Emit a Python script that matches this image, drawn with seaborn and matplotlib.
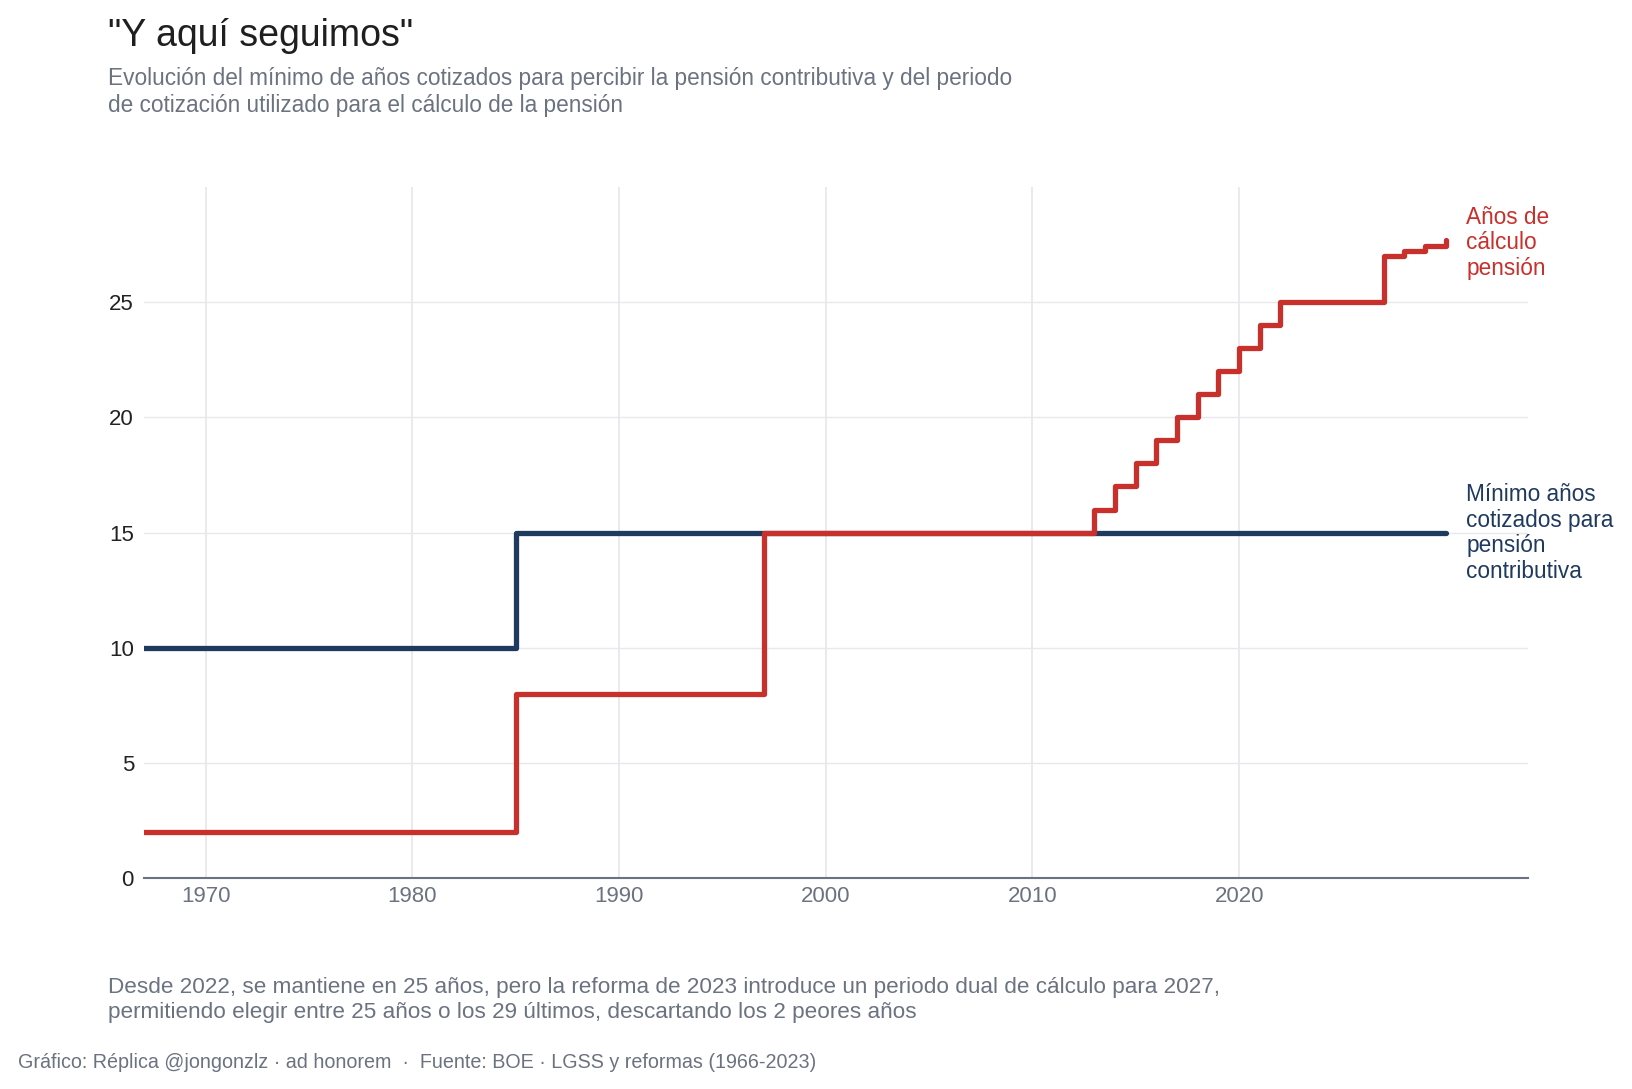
import pandas as pd
import numpy as np
import seaborn as sns
import matplotlib.pyplot as plt

# step change points (year, value) - drawn as steps-post
min_years = [1966, 1985, 2030]
min_values = [10, 15, 15]

calc_years = [1966, 1985, 1997, 2013, 2014, 2015, 2016, 2017, 2018, 2019, 2020,
              2021, 2022, 2027, 2028, 2029, 2030]
calc_values = [2, 8, 15, 16, 17, 18, 19, 20, 21, 22, 23,
               24, 25, 27, 27.25, 27.45, 27.7]

series_names = ["Mínimo años\ncotizados para\npensión\ncontributiva",
                "Años de\ncálculo\npensión"]
colors = ["#1f3a5f", "#c8302c"]

x_ticks = [1970, 1980, 1990, 2000, 2010, 2020]
y_ticks = [0, 5, 10, 15, 20, 25]

df = pd.concat([
    pd.DataFrame({"year": min_years, "value": min_values, "serie": series_names[0]}),
    pd.DataFrame({"year": calc_years, "value": calc_values, "serie": series_names[1]}),
])

sns.set_theme(style="white")
plt.rcParams['font.family'] = ['Liberation Sans', 'DejaVu Sans']

fig = plt.figure(figsize=(16.33, 10.89), dpi=100)
ax = fig.add_axes([0.088, 0.194, 0.848, 0.634])

grid_c = "#e6e8ec"
for xt in x_ticks:
    ax.axvline(xt, color=grid_c, lw=1.3, zorder=0)
for yt in y_ticks[1:]:
    ax.axhline(yt, color=grid_c, lw=1.0, zorder=0)

sns.lineplot(data=df, x="year", y="value", hue="serie", palette=colors,
             hue_order=series_names, drawstyle="steps-post", linewidth=3.8,
             legend=False, ax=ax, zorder=3)
# red drawn on top of blue where they overlap
for line in ax.get_lines():
    if line.get_color() == colors[1]:
        line.set_zorder(4)

ax.set_xlim(1967, 2034)
ax.set_ylim(0, 30)
ax.set_xticks(x_ticks)
ax.set_yticks(y_ticks)
ax.tick_params(axis="x", labelsize=16, labelcolor="#6b7280", length=0, pad=6)
ax.tick_params(axis="y", labelsize=16, labelcolor="#222222", length=0, pad=7)
ax.set_xlabel("")
ax.set_ylabel("")
for s in ["top", "right", "left"]:
    ax.spines[s].set_visible(False)
ax.spines["bottom"].set_color("#6b7280")
ax.spines["bottom"].set_linewidth(1.5)

# direct labels at the right end
ax.text(2031, 29.2, series_names[1], color=colors[1], fontsize=16.3,
        va="top", ha="left", linespacing=1.15, clip_on=False)
ax.text(2031, 17.15, series_names[0], color=colors[0], fontsize=16.3,
        va="top", ha="left", linespacing=1.15, clip_on=False)

fig.text(0.0663, 0.958, "\"Y aquí seguimos\"", fontsize=27, color="#1f1f1f",
         ha="left", va="baseline")
fig.text(0.0663, 0.8976,
         "Evolución del mínimo de años cotizados para percibir la pensión contributiva y del periodo\n"
         "de cotización utilizado para el cálculo de la pensión",
         fontsize=16.3, color="#6b7280", ha="left", va="baseline", linespacing=1.2)
fig.text(0.0663, 0.0656,
         "Desde 2022, se mantiene en 25 años, pero la reforma de 2023 introduce un periodo dual de cálculo para 2027,\n"
         "permitiendo elegir entre 25 años o los 29 últimos, descartando los 2 peores años",
         fontsize=16.2, color="#6b7280", ha="left", va="baseline", linespacing=1.2)
fig.text(0.011, 0.0197,
         "Gráfico: Réplica @jongonzlz · ad honorem  ·  Fuente: BOE · LGSS y reformas (1966-2023)",
         fontsize=14.2, color="#6b7280", ha="left", va="baseline")

fig.savefig("out.png", dpi=100, facecolor="white")
